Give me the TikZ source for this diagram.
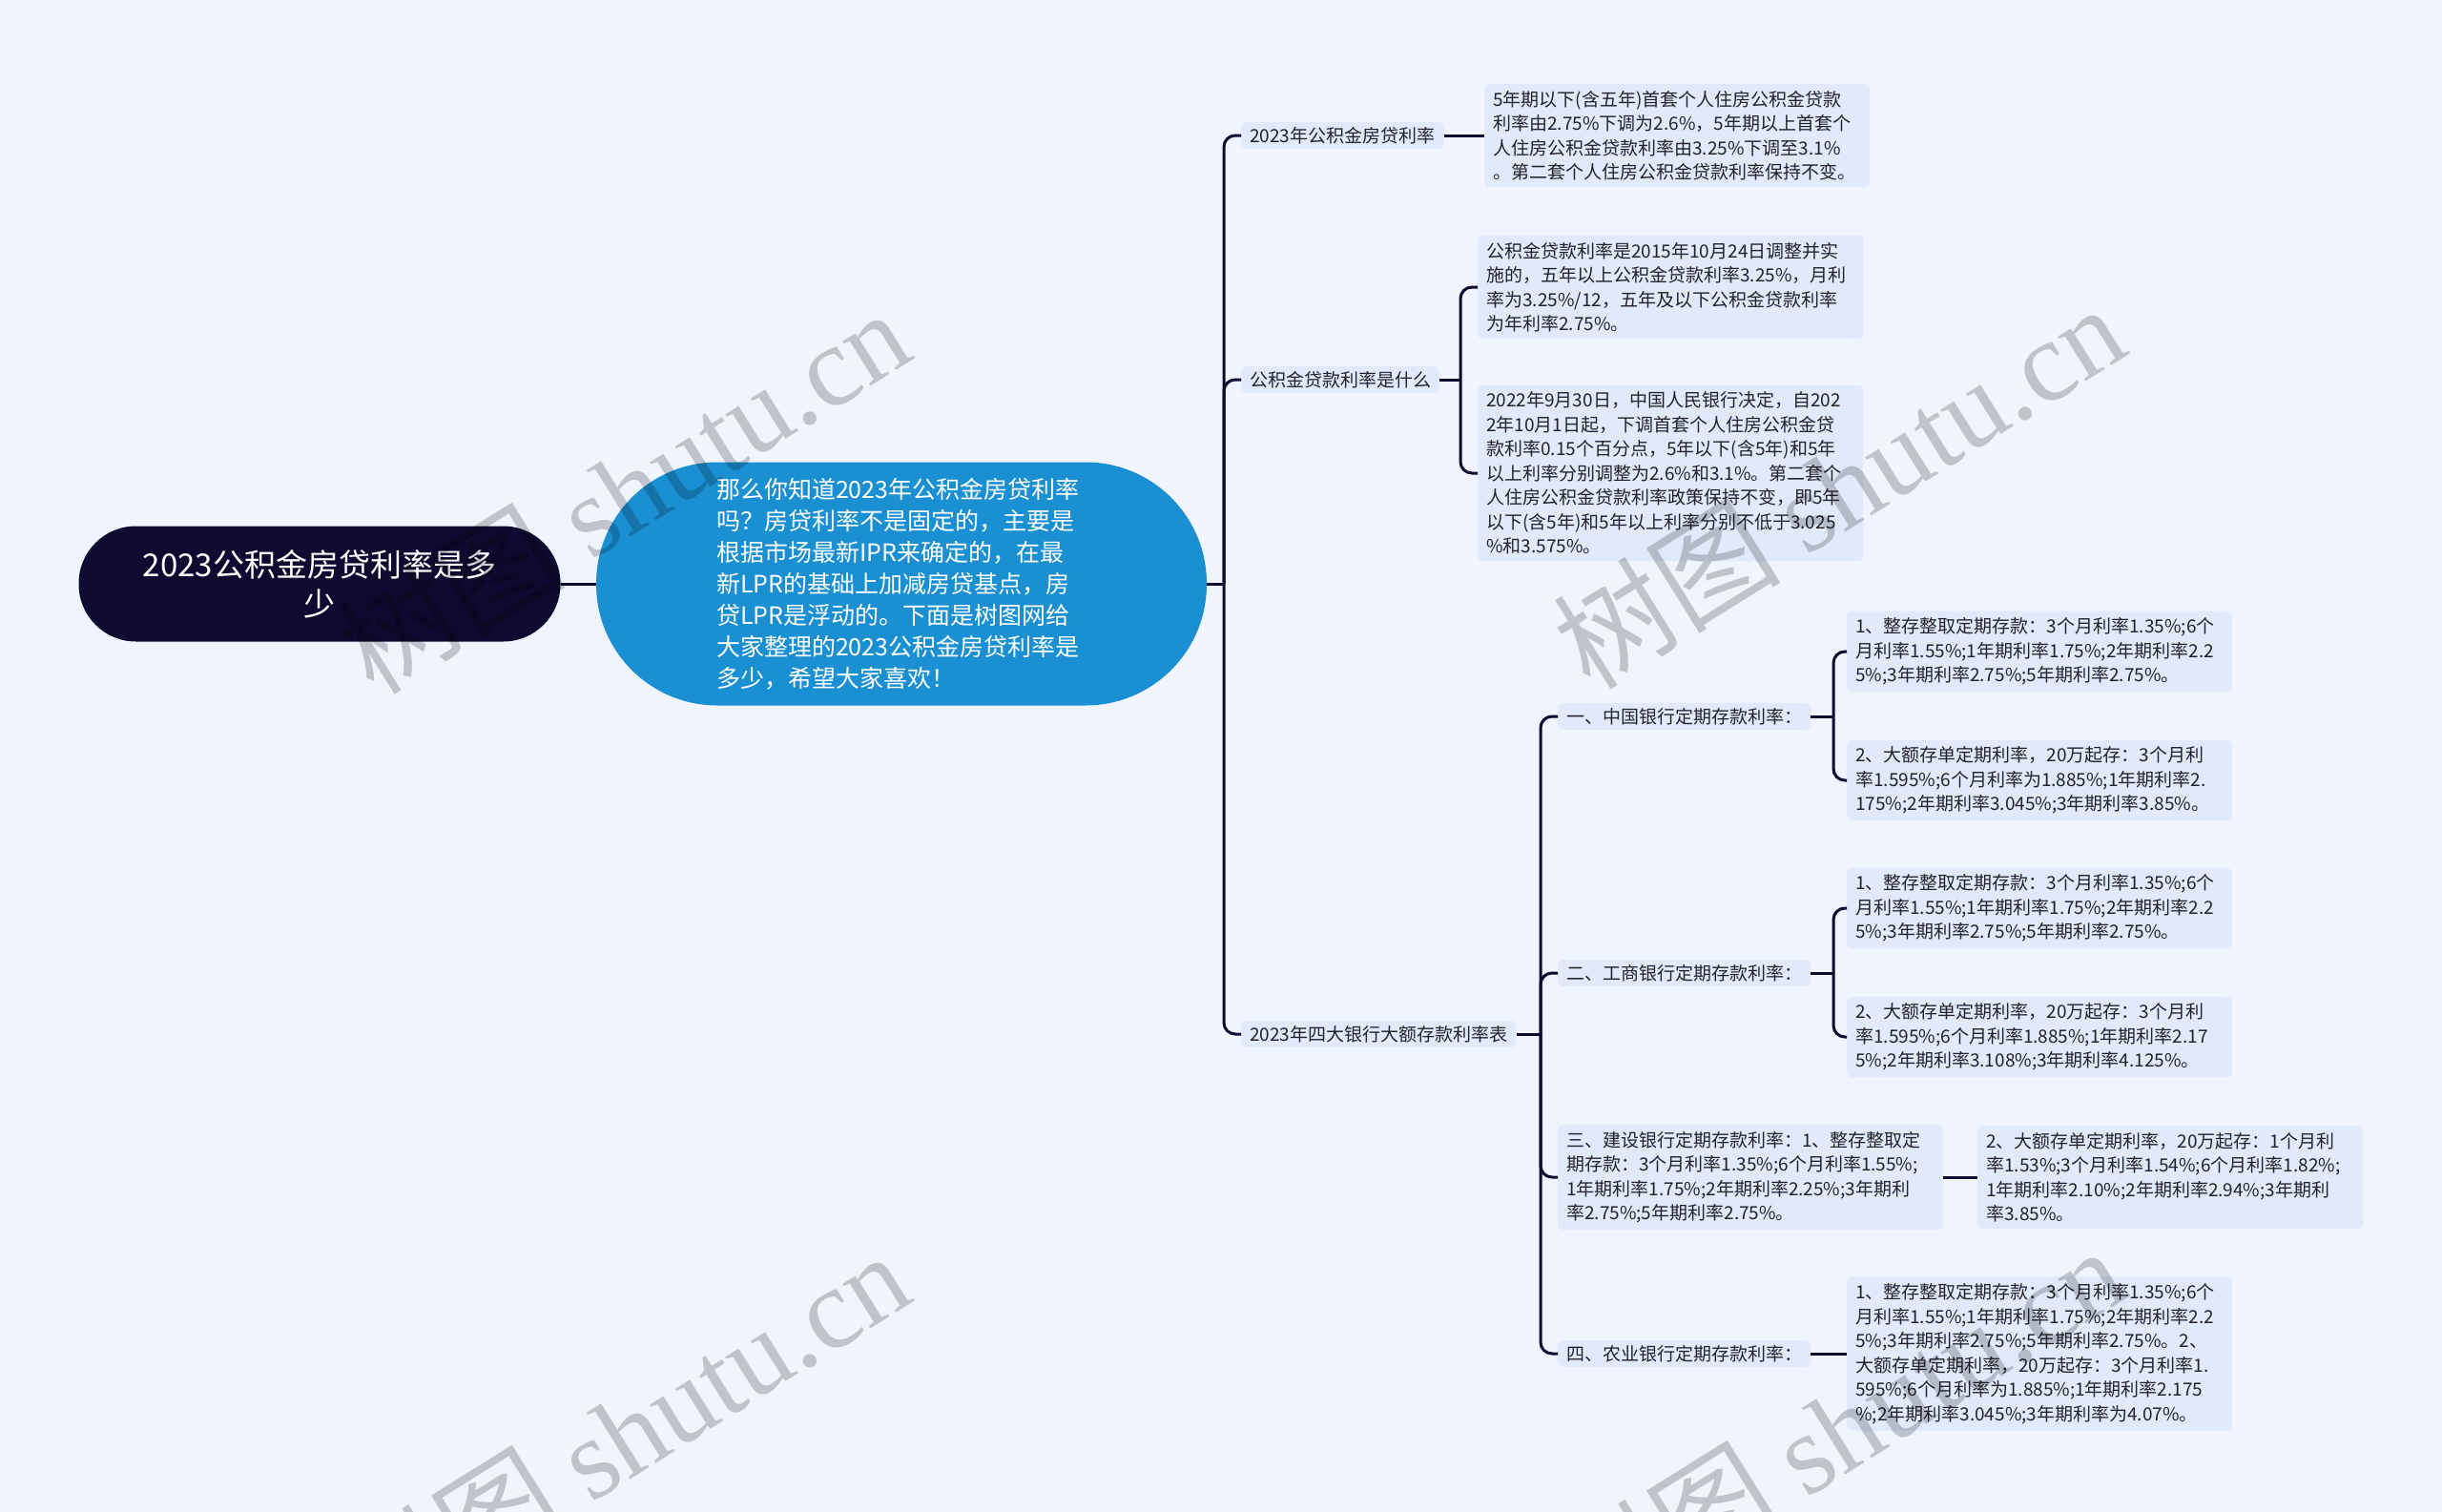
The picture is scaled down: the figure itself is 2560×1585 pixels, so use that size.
\documentclass[tikz,border=0pt]{standalone}
\usepackage{fontspec}
\setmainfont{Noto Sans CJK SC}
\newfontfamily\wmfont{Liberation Serif}
\usepackage{xcolor}
\usepackage{tikz}
\usetikzlibrary{positioning, calc}
\definecolor{pagebg}{RGB}{239,244,254}
\definecolor{boxbg}{RGB}{225,234,251}
\definecolor{rootbg}{RGB}{14,10,48}
\definecolor{introbg}{RGB}{26,143,210}
\definecolor{linkcol}{RGB}{14,10,48}
\definecolor{txtcol}{RGB}{34,34,40}
\tikzset{
  rootnode/.style={rectangle, rounded corners=60pt, fill=rootbg, text=white, align=center, minimum width=505pt, minimum height=121pt, font=\fontsize{33}{41}\selectfont},
  intronode/.style={rectangle, rounded corners=127pt, fill=introbg, text=white, text width=388pt, align=left, minimum width=640pt, minimum height=255pt, font=\fontsize{25}{33}\selectfont},
  topic/.style={rectangle, rounded corners=6pt, fill=boxbg, text=txtcol, inner xsep=9pt, inner ysep=5pt, font=\fontsize{19}{25}\selectfont},
  leaf/.style={rectangle, rounded corners=6pt, fill=boxbg, text=txtcol, text width=386pt, align=left, inner xsep=9pt, inner ysep=7pt, font=\fontsize{19}{25.5}\selectfont},
  link/.style={draw=linkcol, line width=3pt, rounded corners=12pt},
  wmark/.style={text=black, text opacity=0.2, rotate=32, font=\fontsize{120}{120}\selectfont},
}

\begin{document}
\begin{tikzpicture}[x=1pt, y=-1pt]
  % Page
  \fill[pagebg] (0,0) rectangle (2560,1585);
  \useasboundingbox (0,0) rectangle (2560,1585);

  % Root and intro
  \node[rootnode] (root) at (335,612) {2023公积金房贷利率是多\\少};
  \node[intronode] (intro) at (945,612) {那么你知道2023年公积金房贷利率\\吗？房贷利率不是固定的，主要是\\根据市场最新IPR来确定的，在最\\新LPR的基础上加减房贷基点，房\\贷LPR是浮动的。下面是树图网给\\大家整理的2023公积金房贷利率是\\多少，希望大家喜欢！};

  % Topics
  \node[topic, anchor=west] (rate) at (1301,142) {2023年公积金房贷利率};
  \node[topic, anchor=west] (what) at (1301,398) {公积金贷款利率是什么};
  \node[topic, anchor=west] (banks) at (1301,1084) {2023年四大银行大额存款利率表};

  % Leaves of the first two topics
  \node[leaf, anchor=west] (rateA) at (1556,142) {5年期以下(含五年)首套个人住房公积金贷款\\利率由2.75\%下调为2.6\%，5年期以上首套个\\人住房公积金贷款利率由3.25\%下调至3.1\%\\。第二套个人住房公积金贷款利率保持不变。};
  \node[leaf, anchor=west] (whatA) at (1549,301) {公积金贷款利率是2015年10月24日调整并实\\施的，五年以上公积金贷款利率3.25\%，月利\\率为3.25\%/12，五年及以下公积金贷款利率\\为年利率2.75\%。};
  \node[leaf, anchor=west] (whatB) at (1549,496) {2022年9月30日，中国人民银行决定，自202\\2年10月1日起，下调首套个人住房公积金贷\\款利率0.15个百分点，5年以下(含5年)和5年\\以上利率分别调整为2.6\%和3.1\%。第二套个\\人住房公积金贷款利率政策保持不变，即5年\\以下(含5年)和5年以上利率分别不低于3.025\\\%和3.575\%。};

  % Banks
  \node[topic, anchor=west] (boc) at (1633,751) {一、中国银行定期存款利率：};
  \node[topic, anchor=west] (icbc) at (1633,1020) {二、工商银行定期存款利率：};
  \node[leaf, anchor=west] (ccb) at (1633,1234) {三、建设银行定期存款利率：1、整存整取定\\期存款：3个月利率1.35\%;6个月利率1.55\%;\\1年期利率1.75\%;2年期利率2.25\%;3年期利\\率2.75\%;5年期利率2.75\%。};
  \node[topic, anchor=west] (abc) at (1633,1419) {四、农业银行定期存款利率：};

  % Bank leaves
  \node[leaf, anchor=west] (bocA) at (1936,683) {1、整存整取定期存款：3个月利率1.35\%;6个\\月利率1.55\%;1年期利率1.75\%;2年期利率2.2\\5\%;3年期利率2.75\%;5年期利率2.75\%。};
  \node[leaf, anchor=west] (bocB) at (1936,818) {2、大额存单定期利率，20万起存：3个月利\\率1.595\%;6个月利率为1.885\%;1年期利率2.\\175\%;2年期利率3.045\%;3年期利率3.85\%。};
  \node[leaf, anchor=west] (icbcA) at (1936,952) {1、整存整取定期存款：3个月利率1.35\%;6个\\月利率1.55\%;1年期利率1.75\%;2年期利率2.2\\5\%;3年期利率2.75\%;5年期利率2.75\%。};
  \node[leaf, anchor=west] (icbcB) at (1936,1087) {2、大额存单定期利率，20万起存：3个月利\\率1.595\%;6个月利率1.885\%;1年期利率2.17\\5\%;2年期利率3.108\%;3年期利率4.125\%。};
  \node[leaf, anchor=west] (ccbA) at (2073,1234) {2、大额存单定期利率，20万起存：1个月利\\率1.53\%;3个月利率1.54\%;6个月利率1.82\%;\\1年期利率2.10\%;2年期利率2.94\%;3年期利\\率3.85\%。};
  \node[leaf, anchor=west] (abcA) at (1936,1419) {1、整存整取定期存款：3个月利率1.35\%;6个\\月利率1.55\%;1年期利率1.75\%;2年期利率2.2\\5\%;3年期利率2.75\%;5年期利率2.75\%。2、\\大额存单定期利率，20万起存：3个月利率1.\\595\%;6个月利率为1.885\%;1年期利率2.175\\\%;2年期利率3.045\%;3年期利率为4.07\%。};

  % Joints
  \coordinate (trunk) at (1283,612);
  \coordinate (whatJ) at (1531,398);
  \coordinate (banksJ) at (1615,1084);
  \coordinate (bocJ) at (1922,751);
  \coordinate (icbcJ) at (1922,1020);

  % Links
  \draw[link] (root.east) -- (intro.west);
  \draw[link] (intro.east) -- (trunk);
  \draw[link] (trunk) |- (rate.west);
  \draw[link] (trunk) |- (what.west);
  \draw[link] (trunk) |- (banks.west);
  \draw[link] (rate.east) -- (rateA.west);
  \draw[link] (what.east) -- (whatJ);
  \draw[link] (whatJ) |- (whatA.west);
  \draw[link] (whatJ) |- (whatB.west);
  \draw[link] (banks.east) -- (banksJ);
  \draw[link] (banksJ) |- (boc.west);
  \draw[link] (banksJ) |- (icbc.west);
  \draw[link] (banksJ) |- (ccb.west);
  \draw[link] (banksJ) |- (abc.west);
  \draw[link] (boc.east) -- (bocJ);
  \draw[link] (bocJ) |- (bocA.west);
  \draw[link] (bocJ) |- (bocB.west);
  \draw[link] (icbc.east) -- (icbcJ);
  \draw[link] (icbcJ) |- (icbcA.west);
  \draw[link] (icbcJ) |- (icbcB.west);
  \draw[link] (ccb.east) -- (ccbA.west);
  \draw[link] (abc.east) -- (abcA.west);

  % Watermarks
  \node[wmark] (wm1) at (653,514) {树图 {\wmfont shutu.cn}};
  \node[wmark] (wm2) at (1927,509) {树图 {\wmfont shutu.cn}};
  \node[wmark] (wm3) at (653,1502) {树图 {\wmfont shutu.cn}};
  \node[wmark] (wm4) at (1927,1497) {树图 {\wmfont shutu.cn}};
\end{tikzpicture}
\end{document}
